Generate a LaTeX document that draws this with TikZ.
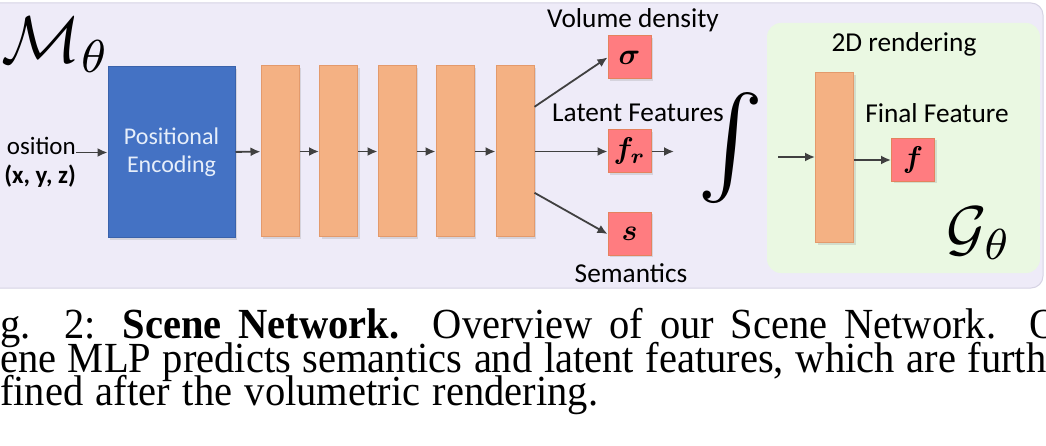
\documentclass[tikz,border=0pt]{standalone}
\usepackage{amsmath}
\usepackage{graphicx}
\usepackage{fontspec}
\setmainfont{Carlito}
\newfontfamily\capfont{Liberation Serif}
\usetikzlibrary{calc,shadows,arrows.meta}

\definecolor{panelbg}{HTML}{EEEBF8}
\definecolor{panelline}{HTML}{D6D3E4}
\definecolor{encblue}{HTML}{4472C4}
\definecolor{encline}{HTML}{3A62AB}
\definecolor{enctext}{HTML}{E6EEFA}
\definecolor{layerfill}{HTML}{F4B183}
\definecolor{layerline}{HTML}{E39A6C}
\definecolor{outfill}{HTML}{FF7C80}
\definecolor{outred}{HTML}{E4825E}
\definecolor{renderbg}{HTML}{EAF8E2}
\definecolor{arrowgray}{HTML}{404040}

\newcommand{\bigmath}[2]{\scalebox{#1}{$#2$}}
\newcommand{\capbox}[2]{\scalebox{1}[1.06]{\makebox[#1][s]{#2}}}

\tikzset{
	softshadow/.style={drop shadow={shadow xshift=2pt, shadow yshift=-2pt, opacity=0.22}},
	layer/.style={draw=layerline, fill=layerfill, line width=1pt, minimum width=38pt, minimum height=171pt, inner sep=0pt, softshadow},
	outbox/.style={draw=outred, fill=outfill, line width=1pt, minimum size=43pt, inner sep=0pt, softshadow},
	flow/.style={-{Latex[length=10pt,width=9pt]}, draw=arrowgray, line width=1.8pt},
	lbl/.style={inner sep=0pt, font=\fontsize{27.3}{30}\selectfont},
	capline/.style={anchor=base west, inner sep=0pt, font=\capfont\fontsize{40.5}{40.5}\selectfont}
}

\begin{document}
\begin{tikzpicture}[x=1pt, y=-1pt]
		%%%%% START %%%%%
		\clip (0, 0) rectangle (1046, 446);
		\fill[white] (0, 0) rectangle (1046, 446);
		
		% outer panel
		\draw[panelline, fill=panelbg, line width=1pt, rounded corners=12pt] (-20, 3) rectangle (1043, 288);
		\node[inner sep=0pt, anchor=base west] (mtheta) at (1, 63) {\bigmath{6.6}{\mathcal{M}_\theta}};
		
		% scene MLP
		\node[inner sep=0pt, anchor=east, align=right, font=\fontsize{25}{29}\selectfont] (pos) at (76, 162) {osition\\\textbf{(x, y, z)}};
		\node[draw=encline, fill=encblue, line width=1pt, minimum width=127pt, minimum height=171pt, inner sep=0pt, softshadow,
			text=enctext, align=center, font=\fontsize{24}{28}\selectfont] (enc) at (171.5, 152.5) {Positional\\Encoding};
		\draw[flow] (pos.east |- enc.west) -- (enc.west);
		
		\foreach \i/\x in {1/280, 2/338.5, 3/397, 4/455, 5/515}
			\node[layer] (l\i) at (\x, 151.5) {};
		\draw[flow] (enc) -- (l1);
		\foreach \i [count=\j from 2] in {1,...,4}
			\draw[flow] (l\i) -- (l\j);
		
		% outputs
		\node[outbox] (sig) at (629.5, 57.5) {\bigmath{3}{\boldsymbol{\sigma}}};
		\node[outbox] (fr) at (629.5, 151.5) {\bigmath{3}{\boldsymbol{f_r}}};
		\node[outbox] (sem) at (629.5, 234) {\bigmath{3}{\boldsymbol{s}}};
		\node[lbl, anchor=base] (vd) at (633, 28) {Volume density};
		\node[lbl, anchor=base] (lf) at (638, 122) {Latent Features};
		\node[lbl, anchor=base] (sm) at (631, 282) {Semantics};
		\draw[flow] ($(l5.north east)!0.24!(l5.south east)$) -- (sig.west);
		\draw[flow] (l5) -- (fr);
		\draw[flow] ($(l5.north east)!0.74!(l5.south east)$) -- (sem.west);
		\coordinate (frout) at (674, 151.5);
		\draw[flow] (fr) -- (frout);
		
		\node[inner sep=0pt] (integ) at (731, 148) {\bigmath{10}{\int}};
		
		% 2D rendering
		\node[fill=renderbg, rounded corners=14pt, minimum width=273pt, minimum height=250pt, inner sep=0pt] (render) at (903.5, 148) {};
		\node[lbl, anchor=base] (rd) at (904, 52) {2D rendering};
		\node[layer, minimum height=170pt] (gbar) at (834.5, 158) {};
		\coordinate (gin) at (778, 157);
		\draw[flow] (gin) -- (gin -| gbar.west);
		\node[outbox] (fin) at (913, 160) {\bigmath{3}{\boldsymbol{f}}};
		\draw[flow] (gbar.east |- fin) -- (fin);
		\node[lbl, anchor=base] (ff) at (937, 123) {Final Feature};
		\node[inner sep=0pt, anchor=base east] (gtheta) at (1012, 250) {\bigmath{6.2}{\mathcal{G}_\theta}};
		
		% caption
		\node[capline] (cap1) at (0, 338) {\capbox{1059pt}{g. 2: \textbf{Scene Network.} Overview of our Scene Network. O}};
		\node[capline] (cap2) at (0, 372) {\capbox{1046pt}{ene MLP predicts semantics and latent features, which are furth}};
		\node[capline] (cap3) at (0, 405) {\capbox{598pt}{fined after the volumetric rendering.}};
		%%%%% END %%%%%
\end{tikzpicture}
\end{document}
